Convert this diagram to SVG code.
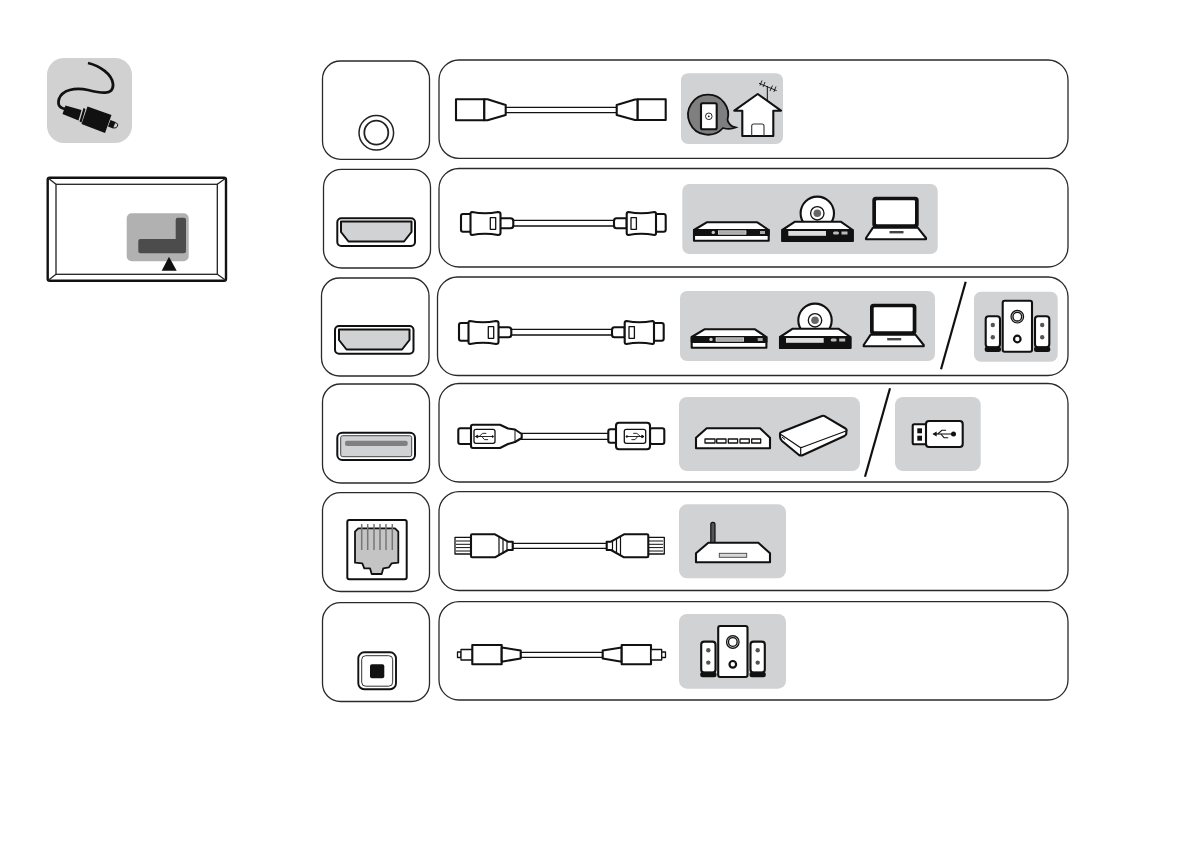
<svg xmlns="http://www.w3.org/2000/svg" width="1194" height="842" viewBox="0 0 1194 842">
<style>
.pn{fill:#fff;stroke:#2a2a2a;stroke-width:1.3}
.gp{fill:#d0d2d3}
.k{fill:#fff;stroke:#111;stroke-width:2.100;stroke-linejoin:round}
.kg{fill:#d0d2d3;stroke:#111;stroke-width:2;stroke-linejoin:round}
.t{fill:#fff;stroke:#111;stroke-width:1.300;stroke-linejoin:round}
.b{fill:#111;stroke:#111;stroke-width:2;stroke-linejoin:round}
.l{fill:none;stroke:#111;stroke-width:1}
.sl{fill:none;stroke:#111;stroke-width:2.200}
</style>
<defs>
<g id="avset">
<path class="k" d="M694 230L706.700 222.300H757.300L768.700 230V240.700H694Z"/>
<rect class="b" x="694" y="230" width="74.700" height="5"/>
<rect x="718.300" y="230.800" width="27.700" height="3.400" fill="#aaa" stroke="#fff" stroke-width=".6"/>
<circle cx="713.300" cy="232.400" r="1.700" fill="#ccc"/>
<rect x="760" y="231" width="5" height="3" fill="#aaa"/>
<circle cx="817.300" cy="213.300" r="16.700" class="k"/>
<circle cx="817.300" cy="213.300" r="6.700" class="t"/>
<circle cx="817.300" cy="213.300" r="3.800" fill="#666"/>
<path class="k" d="M782.300 230L795 221.700H840.700L852.700 230V241H782.300Z"/>
<path class="b" d="M782.300 230H852.700V241H782.300Z"/>
<rect x="788.300" y="231" width="37.700" height="4.800" fill="#ddd"/>
<rect x="833" y="231.500" width="6" height="3" rx="1.500" fill="#bbb"/>
<rect x="841.500" y="231.500" width="6" height="3" fill="#bbb"/>
<rect class="b" x="873.300" y="197.700" width="44.400" height="29" rx="2.500"/>
<rect x="876" y="200.300" width="39" height="24" rx="1" fill="#fff"/>
<path class="k" d="M873 227.700H917.700L926 238V239.300H866V238Z"/>
<rect x="889.500" y="231" width="14" height="2.400" fill="#444"/>
</g>
<g id="spk">
<rect class="k" x="1002.700" y="300.700" width="29.300" height="51" rx="2"/>
<circle cx="1017.300" cy="316.700" r="6.300" fill="#c4c4c4" stroke="#111" stroke-width="1.200"/>
<circle class="t" cx="1017.300" cy="316.700" r="4.300"/>
<circle cx="1017.300" cy="339" r="3.300" fill="#fff" stroke="#111" stroke-width="2.200"/>
<rect class="k" x="985.700" y="316.300" width="14.300" height="31" rx="3"/>
<rect class="b" x="985.700" y="347.500" width="14.300" height="3.500" rx="1.500"/>
<circle cx="992.800" cy="325" r="2.200" fill="#555"/><circle cx="992.800" cy="337.300" r="2.200" fill="#555"/>
<rect class="k" x="1035" y="316.300" width="14.300" height="31" rx="3"/>
<rect class="b" x="1035" y="347.500" width="14.300" height="3.500" rx="1.500"/>
<circle cx="1042.200" cy="325" r="2.200" fill="#555"/><circle cx="1042.200" cy="337.300" r="2.200" fill="#555"/>
</g>
<g id="hdmicable">
<rect class="t" x="513" y="220.300" width="101.500" height="5.700"/>
<rect class="k" x="461" y="214" width="12" height="17.700" rx="2"/>
<path class="k" d="M500 218.300H510.500Q513.300 218.300 513.300 221V225.500Q513.300 228.300 510.500 228.300H500Z"/>
<path class="k" d="M472 212Q485 214.500 498 212Q500.500 212 500.500 214V233Q500.500 235 498 235Q485 232.500 472 235Q470.500 235 470.500 233V214Q470.500 212 472 212Z"/>
<rect class="t" x="490.300" y="217.700" width="5.400" height="11.600"/>
<path class="k" d="M626.700 218.300H616.500Q614 218.300 614 221V225.500Q614 228.300 616.500 228.300H626.700Z"/>
<rect class="k" x="654" y="214" width="11.700" height="17.700" rx="2"/>
<path class="k" d="M628.500 212Q641 214.500 654.500 212Q656 212 656 214V233Q656 235 654.500 235Q641 232.500 628.500 235Q626.700 235 626.700 233V214Q626.700 212 628.500 212Z"/>
<rect class="t" x="631" y="217.700" width="5.400" height="11.600"/>
</g>
<g id="trident" fill="none" stroke="#111" stroke-width="1">
<path d="M-10 0H9"/><path d="M-6 0L-2 -3.500H2"/><path d="M-3 0L0 3.500H4"/>
<path d="M-10 0l2.500 -1.500v3Z" fill="#111"/><circle cx="9" cy="0" r=".9" fill="#111"/>
</g>
</defs>

<g id="icon-cable">
<rect x="47" y="58" width="85" height="85" rx="17" fill="#d1d1d1"/>
<path d="M88 63C100 66 112 74 113 84C114 96 100 93 88 90C75 87 62 90 59 99C57 106 61 109 67 109" fill="none" stroke="#111" stroke-width="2.800"/>
<path d="M65.500 105.500L81.500 110L78.500 120.500L62.500 114Z" fill="#111"/>
<path d="M83.500 108L85.500 109L81.500 122.500L79.500 121.500Z" fill="#111"/>
<path d="M87.500 106.500L111.500 115L105 133L81.500 124Z" fill="#111"/>
<path d="M110.500 120L115.500 122L113 128.500L108 126.500Z" fill="#111"/>
<path d="M114.500 122.500L116.500 123Q118.300 124 117.500 126Q116.500 128.500 114 128L112.500 127.500" fill="none" stroke="#111" stroke-width="1"/>
</g>

<g id="tv">
<rect x="47.700" y="177.700" width="178.300" height="103" rx="2" fill="#fff" stroke="#111" stroke-width="2.400"/>
<rect x="56" y="184.300" width="161.300" height="90" fill="none" stroke="#222" stroke-width="1.300"/>
<path d="M48 178L56 184.300M226 178L217.300 184.300M48 280.500L56 274.300M226 280.500L217.300 274.300" stroke="#222" stroke-width="1.300"/>
<rect x="126.700" y="213.300" width="62" height="48" rx="5" fill="#b1b1b1"/>
<path d="M177.500 217.700H184Q186 217.700 186 219.700V251.300Q186 253.300 184 253.300H140.300Q138.300 253.300 138.300 251.300V241Q138.300 239 140.300 239H175.700V219.700Q175.700 217.700 177.500 217.700Z" fill="#4c4c4c"/>
<path d="M161.700 270.700H176.700L169 256.700Z" fill="#111"/>
</g>

<g id="row1">
<rect class="pn" x="322.500" y="61" width="107" height="98.300" rx="18"/>
<circle cx="376.300" cy="132.700" r="17.300" fill="#fff" stroke="#222" stroke-width="1.500"/>
<circle cx="376.300" cy="132.700" r="12" fill="#fff" stroke="#222" stroke-width="1.800"/>
<rect class="pn" x="439" y="60" width="629" height="98.300" rx="20"/>
<rect class="t" x="505" y="107.300" width="113" height="5.400"/>
<rect class="k" x="456" y="99.300" width="28.300" height="21"/>
<path class="k" d="M484.300 99.300H487.500L505.700 105V115L487.500 120.300H484.300Z"/>
<path class="k" d="M616.700 105L635 99.500H637.700V120H635L616.700 115Z"/>
<rect class="k" x="637.700" y="99.300" width="28" height="20.700"/>
<rect class="gp" x="681" y="73.300" width="102" height="70.700" rx="7"/>
<path d="M708.300 94.700A20 20 0 0 1 727.500 120Q729 126 735.700 127.500Q730 130 723 128A20 20 0 1 1 708.300 94.700Z" fill="#7f7f7f" stroke="#111" stroke-width="1.800"/>
<rect class="k" x="701" y="103.300" width="15.700" height="26" rx="1.500"/>
<circle cx="708.800" cy="116.300" r="3.300" fill="none" stroke="#111" stroke-width=".9"/>
<circle cx="708.800" cy="116.300" r=".9" fill="#111"/>
<path d="M767.300 101V86" class="l"/>
<path d="M759 83.300L776.700 90.700M762 80.500L760 85.500M765 82L763 87M772.500 85.500L770 91M776 86.500L773.800 92" fill="none" stroke="#111" stroke-width=".9"/>
<path class="k" d="M734.300 110.700L757.700 94L781 110.700H773.300V136H742.300V110.700Z"/>
<path d="M751.700 136V126Q751.700 124 753.700 124H762Q764 124 764 126V136" fill="none" stroke="#333" stroke-width="1.100"/>
</g>

<g id="row2">
<rect class="pn" x="323.500" y="169.300" width="107" height="98.700" rx="18"/>
<rect x="337.300" y="218.300" width="77.700" height="27.700" rx="4" fill="#fff" stroke="#111" stroke-width="2"/>
<path class="kg" d="M341 221.500H411.500V232L404 241.500H348.500L341 232Z"/>
<rect class="pn" x="439" y="168.500" width="629" height="98.500" rx="20"/>
<use href="#hdmicable"/>
<rect class="gp" x="682.300" y="184" width="255.400" height="70" rx="7"/>
<use href="#avset"/>
</g>

<g id="row3">
<rect class="pn" x="321.500" y="278" width="107.500" height="98" rx="18"/>
<rect x="335" y="326" width="78.500" height="27.700" rx="4" fill="#fff" stroke="#111" stroke-width="2"/>
<path class="kg" d="M339 329.500H409.500V340L402 349.500H346.500L339 340Z"/>
<rect class="pn" x="437.500" y="277" width="630.500" height="98.500" rx="20"/>
<use href="#hdmicable" x="-2" y="109"/>
<rect class="gp" x="680" y="291" width="255" height="70" rx="7"/>
<use href="#avset" x="-2.300" y="107"/>
<path class="sl" d="M965.700 281.700L941 369.300"/>
<rect class="gp" x="974" y="291.700" width="83.700" height="70" rx="7"/>
<use href="#spk"/>
</g>

<g id="row4">
<rect class="pn" x="322.500" y="384" width="107" height="99" rx="18"/>
<rect x="337.300" y="432.700" width="77.700" height="27.300" rx="5" fill="#fff" stroke="#111" stroke-width="2"/>
<rect x="340.700" y="435.700" width="71" height="21" rx="2" fill="#d0d2d3" stroke="#333" stroke-width=".9"/>
<rect x="345" y="440.700" width="62.700" height="5.300" rx="2" fill="#808080"/>
<rect class="pn" x="439" y="383.500" width="629" height="98.500" rx="20"/>
<rect class="t" x="521" y="433.300" width="88" height="6"/>
<rect class="k" x="458.300" y="428.300" width="14" height="15.700" rx="2"/>
<path class="k" d="M471 426.500Q471 424.700 473 424.700H500L508 428.500L515 429.500L521.700 434V438L515 442L508 444L500 448H473Q471 448 471 446Z"/>
<path d="M515 429.500V442" class="l"/>
<rect class="t" x="474" y="429.300" width="21" height="14" rx="2"/>
<use href="#trident" transform="translate(484.500 436.500) scale(.9)"/>
<rect class="k" x="608.300" y="429.300" width="9" height="13.400" rx="2"/>
<rect class="k" x="650" y="428.300" width="14.300" height="15.700" rx="2"/>
<rect class="k" x="616" y="422.700" width="34" height="26.600" rx="3"/>
<rect class="t" x="624.300" y="429.300" width="21.400" height="14" rx="2"/>
<use href="#trident" transform="translate(635 436.500) scale(-.9 .9)"/>
<rect class="gp" x="679" y="397" width="181" height="74" rx="8"/>
<path class="k" d="M696 437.700L706.700 428.300H760L770 437.700V448.300H696Z"/>
<g class="t"><rect x="705" y="439" width="10" height="4"/><rect x="716.700" y="439" width="9.300" height="4"/><rect x="728.300" y="439" width="9.300" height="4"/><rect x="740" y="439" width="9.300" height="4"/><rect x="751.700" y="439" width="9" height="4"/></g>
<path class="k" d="M780 433.500Q780 432.500 781.500 432L822 416Q823.500 415.500 825 416.300L845.500 428.500Q847.300 430 846.300 431.500V434Q846 435 844.500 436L803 455Q801 456 799 455L782 441Q779.800 439 780 436Z"/>
<path d="M781 434.500L799.500 447Q801 448 803 447L846 431M800.700 447.500V455" fill="none" stroke="#111" stroke-width="1.200"/>
<path class="l" d="M782 437L785 439.500"/>
<path class="sl" d="M890 388.300L865 476.700"/>
<rect class="gp" x="895" y="397" width="85.700" height="74" rx="8"/>
<rect class="k" x="912.700" y="424.300" width="14" height="20" rx="1.500"/>
<rect x="917.300" y="428.300" width="4.700" height="5" fill="#111"/>
<rect x="917.300" y="435.700" width="4.700" height="5" fill="#111"/>
<rect class="k" x="926" y="421" width="36.700" height="26" rx="3"/>
<use href="#trident" transform="translate(944 434) scale(1.050)"/>
<circle cx="953.500" cy="434" r="2.500" fill="#111"/>
</g>

<g id="row5">
<rect class="pn" x="322.500" y="492.700" width="107" height="98.800" rx="18"/>
<rect x="347.300" y="520" width="59.400" height="59.300" rx="2" fill="#fff" stroke="#111" stroke-width="2"/>
<path d="M358.300 528.300H395L398.300 531.700V562.700L391.700 563.300L389 567.300L383.300 568.300L381.700 574H371.700L370 568.300L364.300 568.300L362.300 563.300L355 562.700V531.700Z" fill="#c4c4c4" stroke="#111" stroke-width="1.800" stroke-linejoin="round"/>
<path d="M361.700 524V550M367.700 524V550M374 524V550M380 524V550M386 524V550M392.300 524V550" fill="none" stroke="#777" stroke-width="1.500"/>
<rect class="pn" x="439" y="491.700" width="629" height="98.800" rx="20"/>
<rect class="t" x="512.700" y="543.300" width="94" height="5"/>
<rect class="t" x="455" y="537.300" width="16" height="16.700"/>
<path class="l" d="M456 541H471M456 544.300H471M456 547.600H471M456 551H471"/>
<path class="k" d="M471 535.500Q471 534.300 472 534.300H495L508 541.700H512.700V550H508L495 557.300H472Q471 557.300 471 556Z"/>
<path d="M499 536.500V555.500M503 538.500V553.500M507 541V551" fill="none" stroke="#111" stroke-width="1.200"/>
<rect class="t" x="648.300" y="537.300" width="16" height="16.700"/>
<path class="l" d="M648 541H663M648 544.300H663M648 547.600H663M648 551H663"/>
<path class="k" d="M648.300 535.500Q648.300 534.300 647 534.300H624L611 541.700H606.700V550H611L624 557.300H647Q648.300 557.300 648.300 556Z"/>
<path d="M620.500 536.500V555.500M616.500 538.500V553.500M612.500 541V551" fill="none" stroke="#111" stroke-width="1.200"/>
<rect class="gp" x="679" y="504.300" width="107" height="74" rx="8"/>
<rect x="710.800" y="522.300" width="4.200" height="22" rx="2" fill="#555" stroke="#111" stroke-width="1.200"/>
<path class="k" d="M696 553.300L708.300 542.700H758.300L770 553.300V562.300H696Z"/>
<rect x="719.300" y="553.300" width="27.400" height="4" fill="#d8d8d8" stroke="#444" stroke-width=".9"/>
</g>

<g id="row6">
<rect class="pn" x="322.500" y="602.700" width="107" height="98.800" rx="18"/>
<rect x="358.300" y="652.300" width="37.700" height="37" rx="6" fill="#fff" stroke="#111" stroke-width="1.900"/>
<rect x="361.700" y="655.700" width="31" height="30.500" rx="4" fill="#fff" stroke="#333" stroke-width="1"/>
<rect x="370" y="664.300" width="14.300" height="14" rx="2" fill="#111"/>
<rect class="pn" x="439" y="601.700" width="629" height="98.300" rx="20"/>
<rect class="t" x="520.700" y="652.300" width="82" height="5"/>
<rect class="t" x="457.500" y="652" width="3.500" height="5.500"/>
<rect class="t" x="461" y="649.500" width="11.500" height="10.500"/>
<rect class="k" x="472.300" y="645" width="29.400" height="19.300"/>
<path class="k" d="M501.700 647.500L520.700 650.500V658.500L501.700 661.700Z"/>
<path class="k" d="M621.700 647.500L602.700 650.500V658.500L621.700 661.700Z"/>
<rect class="k" x="621.700" y="645" width="29.300" height="19.300"/>
<rect class="t" x="651" y="649.500" width="10.700" height="10.500"/>
<rect class="t" x="661.700" y="652" width="3.800" height="5.500"/>
<rect class="gp" x="679" y="614" width="107" height="74.700" rx="8"/>
<use href="#spk" x="-284.500" y="325.300"/>
</g>
</svg>
